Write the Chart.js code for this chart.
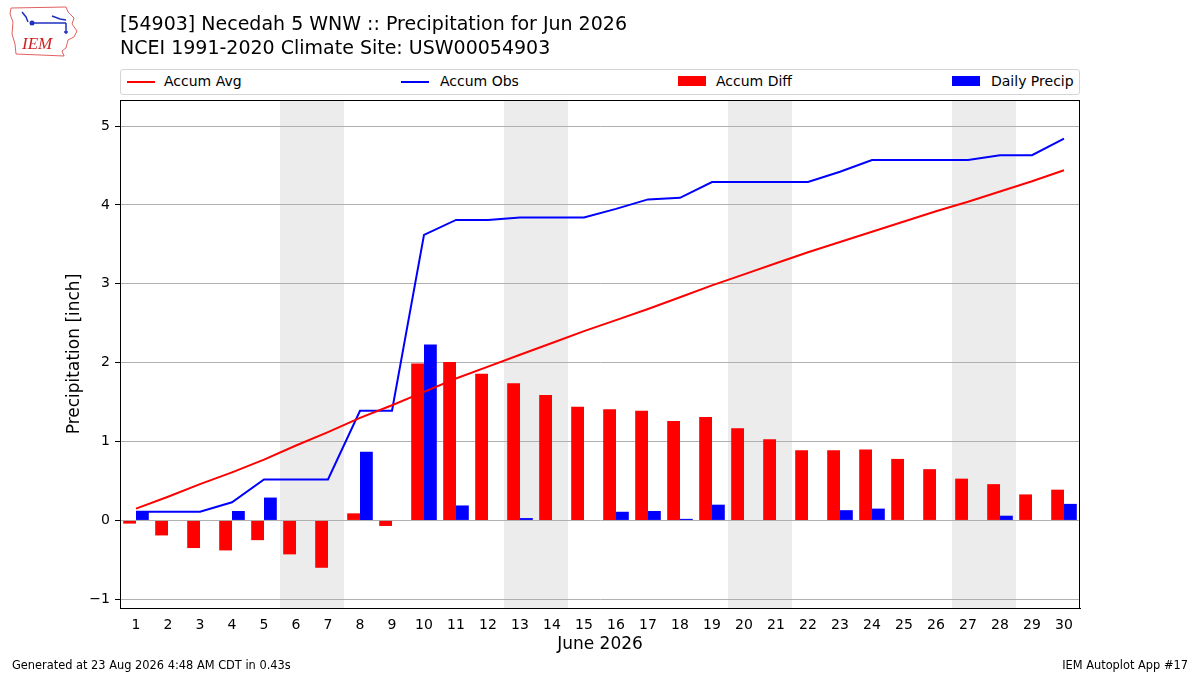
<!DOCTYPE html>
<html>
<head>
<meta charset="utf-8">
<script src="https://cdn.jsdelivr.net/npm/chart.js@4"></script>
<style>
  html, body { margin: 0; padding: 0; background: #fff; }
  body { width: 1200px; height: 675px; position: relative; overflow: hidden; font-family: "DejaVu Sans", sans-serif; color: #000; }
  #wrap { position: absolute; left: 0; top: 0; width: 1200px; height: 675px; }
  .t { position: absolute; white-space: nowrap; }
  #title1 { left: 120px; top: 12px; font-size: 19px; }
  #title2 { left: 120px; top: 36px; font-size: 19px; }
  #legend { position: absolute; left: 120px; top: 69px; width: 958px; height: 24px; border: 1px solid #d4d4d4; border-radius: 3px; background: #fff; }
  .li { position: absolute; top: 3px; font-size: 14px; }
  .ln { position: absolute; top: 11px; width: 28px; height: 2px; }
  .bx { position: absolute; top: 6px; width: 28px; height: 10px; }
  #foot1 { left: 12px; top: 658px; font-size: 11.4px; }
  #foot2 { right: 12px; top: 658px; font-size: 11.4px; }
  #logo { position: absolute; left: 8px; top: 4px; }
</style>
</head>
<body>
<div id="wrap"><canvas id="chart" width="1200" height="675"></canvas></div>

<svg id="logo" width="72" height="54" viewBox="0 0 72 54">
  <path d="M3 4 L58 3 L60 8 L66 14 L64 20 L69 27 L66 33 L60 36 L58 44 L54 47 L56 52 L8 50 L7 40 L4 30 L5 18 L2 10 Z" fill="none" stroke="#e06060" stroke-width="1"/>
  <path d="M14 8 L18 13 L20 18" fill="none" stroke="#2030c0" stroke-width="1.5"/>
  <circle cx="24" cy="19" r="2.5" fill="#2030c0"/>
  <path d="M24 19 L58 19 M44 12 L52 15 L58 16 M58 19 L58 30 M56 28 L60 28" fill="none" stroke="#2030c0" stroke-width="1.5"/>
  <text x="14" y="45" font-family="Liberation Serif, serif" font-style="italic" font-size="17" fill="#d02020">IEM</text>
</svg>

<div class="t" id="title1">[54903] Necedah 5 WNW :: Precipitation for Jun 2026</div>
<div class="t" id="title2">NCEI 1991-2020 Climate Site: USW00054903</div>

<div id="legend">
  <div class="ln" style="left:6px;background:#ff0000"></div><div class="li" style="left:43px">Accum Avg</div>
  <div class="ln" style="left:280px;background:#0000ff"></div><div class="li" style="left:319px">Accum Obs</div>
  <div class="bx" style="left:557px;background:#ff0000"></div><div class="li" style="left:595px">Accum Diff</div>
  <div class="bx" style="left:831px;background:#0000ff"></div><div class="li" style="left:870px">Daily Precip</div>
</div>

<div class="t" id="foot1">Generated at 23 Aug 2026 4:48 AM CDT in 0.43s</div>
<div class="t" id="foot2">IEM Autoplot App #17</div>

<script>
// June 2026 days
const days = ['1','2','3','4','5','6','7','8','9','10','11','12','13','14','15',
              '16','17','18','19','20','21','22','23','24','25','26','27','28','29','30'];

// daily precipitation [inch]
const dailyPrecip = [0.11, 0, 0, 0.12, 0.29, 0, 0, 0.87, 0, 2.23,
                     0.19, 0, 0.03, 0, 0, 0.11, 0.12, 0.02, 0.20, 0,
                     0, 0, 0.13, 0.15, 0, 0, 0, 0.06, 0, 0.21];

// accumulated observed precipitation
const accumObs = [0.11, 0.11, 0.11, 0.23, 0.52, 0.52, 0.52, 1.39, 1.39, 3.62,
                  3.81, 3.81, 3.84, 3.84, 3.84, 3.95, 4.07, 4.09, 4.29, 4.29,
                  4.29, 4.29, 4.42, 4.57, 4.57, 4.57, 4.57, 4.63, 4.63, 4.84];

// accumulated climatology (1991-2020)
const accumAvg = [0.15, 0.30, 0.46, 0.61, 0.77, 0.95, 1.12, 1.30, 1.46, 1.63,
                  1.80, 1.95, 2.10, 2.25, 2.40, 2.54, 2.68, 2.83, 2.98, 3.12,
                  3.26, 3.40, 3.53, 3.66, 3.79, 3.92, 4.04, 4.17, 4.30, 4.44];

// accumulated departure (obs - avg)
const accumDiff = [-0.04, -0.19, -0.35, -0.38, -0.25, -0.43, -0.60, 0.09, -0.07, 1.99,
                   2.01, 1.86, 1.74, 1.59, 1.44, 1.41, 1.39, 1.26, 1.31, 1.17,
                   1.03, 0.89, 0.89, 0.90, 0.78, 0.65, 0.53, 0.46, 0.33, 0.39];

// weekend day pairs to shade
const weekends = [[6, 7], [13, 14], [20, 21], [27, 28]];

const yTicks = [-1, 0, 1, 2, 3, 4, 5];

const shading = {
  id: 'shading',
  beforeDraw(chart) {
    const { ctx, chartArea: a, scales: { x } } = chart;
    const step = x.getPixelForValue(1) - x.getPixelForValue(0);
    ctx.save();
    ctx.fillStyle = '#ececec';
    weekends.forEach(([d0, d1]) => {
      const x0 = x.getPixelForValue(d0 - 1) - step / 2;
      const x1 = x.getPixelForValue(d1 - 1) + step / 2;
      ctx.fillRect(x0, a.top, x1 - x0, a.bottom - a.top);
    });
    ctx.restore();
  }
};

const frame = {
  id: 'frame',
  afterDraw(chart) {
    const { ctx, chartArea: a } = chart;
    ctx.save();
    ctx.strokeStyle = '#000';
    ctx.lineWidth = 1;
    ctx.strokeRect(a.left + 0.5, a.top + 0.5, a.right - a.left - 1, a.bottom - a.top);
    ctx.restore();
  }
};

Chart.defaults.font.family = '"DejaVu Sans", sans-serif';
Chart.defaults.color = '#000';

new Chart(document.getElementById('chart'), {
  type: 'bar',
  data: {
    labels: days,
    datasets: [
      { type: 'line', label: 'Accum Avg', data: accumAvg, borderColor: '#ff0000', borderWidth: 2,
        pointRadius: 0, tension: 0, order: 0 },
      { type: 'line', label: 'Accum Obs', data: accumObs, borderColor: '#0000ff', borderWidth: 2,
        pointRadius: 0, tension: 0, order: 0 },
      { label: 'Accum Diff', data: accumDiff, backgroundColor: '#ff0000', order: 1 },
      { label: 'Daily Precip', data: dailyPrecip, backgroundColor: '#0000ff', order: 1 }
    ]
  },
  options: {
    responsive: false,
    animation: false,
    devicePixelRatio: 1,
    datasets: { bar: { categoryPercentage: 0.8, barPercentage: 1.0 } },
    layout: { padding: { left: 0, right: 120, top: 100, bottom: 0 } },
    plugins: { legend: { display: false }, tooltip: { enabled: false } },
    scales: {
      x: {
        offset: true,
        grid: { display: false, drawTicks: true, tickLength: 5, tickColor: '#000' },
        border: { color: '#000' },
        ticks: { font: { size: 14 }, maxRotation: 0, autoSkip: false, padding: 4 },
        title: { display: true, text: 'June 2026', font: { size: 17 }, padding: { top: 2, bottom: 20 } },
        afterFit(scale) { scale.height = 67; }
      },
      y: {
        min: -1.11,
        max: 5.33,
        afterBuildTicks(scale) { scale.ticks = yTicks.map(v => ({ value: v })); },
        grid: { color: '#b0b0b0', tickColor: '#000', tickLength: 5 },
        border: { color: '#000' },
        ticks: {
          font: { size: 14 },
          padding: 5,
          callback: v => (v < 0 ? '\u2212' + Math.abs(v) : String(v))
        },
        title: { display: true, text: 'Precipitation [inch]', font: { size: 17 }, padding: { top: 64 } },
        afterFit(scale) { scale.width = 120; }
      }
    }
  },
  plugins: [shading, frame]
});
</script>
</body>
</html>
